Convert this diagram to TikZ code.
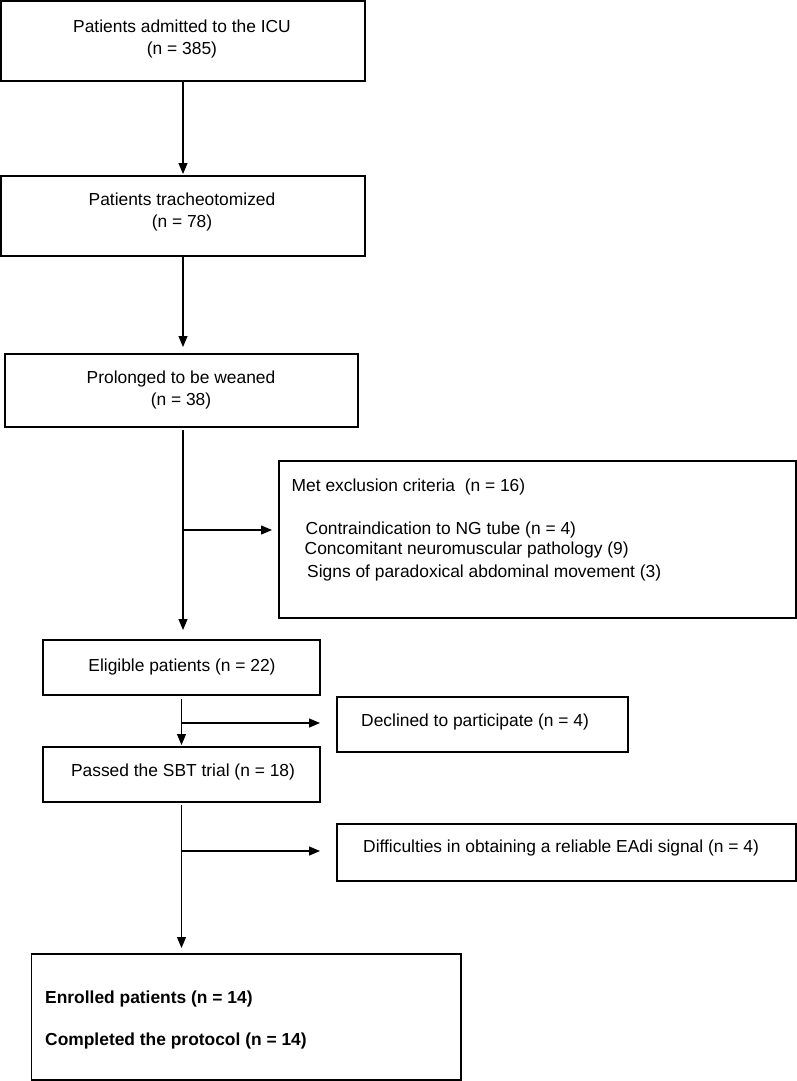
\documentclass[tikz,border=0pt]{standalone}
\usepackage{fontspec}
\setmainfont{Liberation Sans}
\usetikzlibrary{arrows.meta}
\begin{document}
\begin{tikzpicture}[x=1pt,y=-1pt,
 box/.style={draw=black, line width=1.4pt, inner sep=0pt, outer sep=0pt, anchor=north west},
 txt/.style={inner sep=0pt, font=\fontsize{17.4}{22}\selectfont},
 ltxt/.style={txt, anchor=west},
 ctxt/.style={txt, align=center},
 arr/.style={line width=1.2pt, -{Triangle[length=11pt,width=9pt]}}]
\useasboundingbox (0,0) rectangle (797,1081);
% boxes
\node[box, minimum width=364pt, minimum height=80pt] (b1) at (1,1) {};
\node[box, minimum width=364pt, minimum height=80pt] (b2) at (1,176) {};
\node[box, minimum width=353pt, minimum height=73pt] (b3) at (5,354) {};
\node[box, minimum width=517pt, minimum height=157pt] (ex) at (279,461) {};
\node[box, minimum width=277pt, minimum height=55pt] (el) at (43,640) {};
\node[box, minimum width=291pt, minimum height=55pt] (de) at (337,697) {};
\node[box, minimum width=277pt, minimum height=55pt] (pa) at (43,747) {};
\node[box, minimum width=459pt, minimum height=57pt] (di) at (337,824) {};
\node[box, minimum width=429.5pt, minimum height=126pt] (fi) at (31.5,954) {};
% texts
\node[ctxt] (t1) at (182,38.5) {Patients admitted to the ICU\\(n = 385)};
\node[ctxt] (t2) at (182,212) {Patients tracheotomized\\(n = 78)};
\node[ctxt] (t3) at (181,390) {Prolonged to be weaned\\(n = 38)};
\node[ltxt] (tx1) at (291.5,487) {Met exclusion criteria\ \ (n = 16)};
\node[ltxt] (tx2) at (305.5,530) {Contraindication to NG tube (n = 4)};
\node[ltxt] (tx3) at (304.5,550) {Concomitant neuromuscular pathology (9)};
\node[ltxt] (tx4) at (307,572.5) {Signs of paradoxical abdominal movement (3)};
\node[txt] (tel) at (182,667) {Eligible patients (n = 22)};
\node[ltxt] (tde) at (361,722) {Declined to participate (n = 4)};
\node[txt] (tpa) at (183,772) {Passed the SBT trial (n = 18)};
\node[ltxt] (tdi) at (363,848) {Difficulties in obtaining a reliable EAdi signal (n = 4)};
\node[ltxt] (tf1) at (45,999) {\bfseries Enrolled patients (n = 14)};
\node[ltxt] (tf2) at (45,1041) {\bfseries Completed the protocol (n = 14)};
% connectors
\draw[arr, shorten >=2pt] (b1.south) -- (b2.north);
\draw[arr, shorten >=7pt] (b2.south) -- (b2.south |- b3.north);
\draw[arr, shorten <=3pt, shorten >=10pt] (b3.south -| b2.south) -- (b2.south |- el.north);
\coordinate (j1) at (183,530);
\draw[arr, shorten >=7pt] (j1) -- (j1 -| ex.west);
\draw[arr, shorten <=4pt, shorten >=2pt] (el.south) -- (pa.north);
\coordinate (j2) at (181.5,723);
\draw[arr, shorten >=17pt] (j2) -- (j2 -| de.west);
\draw[arr, shorten <=3pt, shorten >=6pt] (pa.south) -- (pa.south |- fi.north);
\coordinate (j3) at (181.5,851);
\draw[arr, shorten >=17pt] (j3) -- (j3 -| di.west);
\end{tikzpicture}
\end{document}
